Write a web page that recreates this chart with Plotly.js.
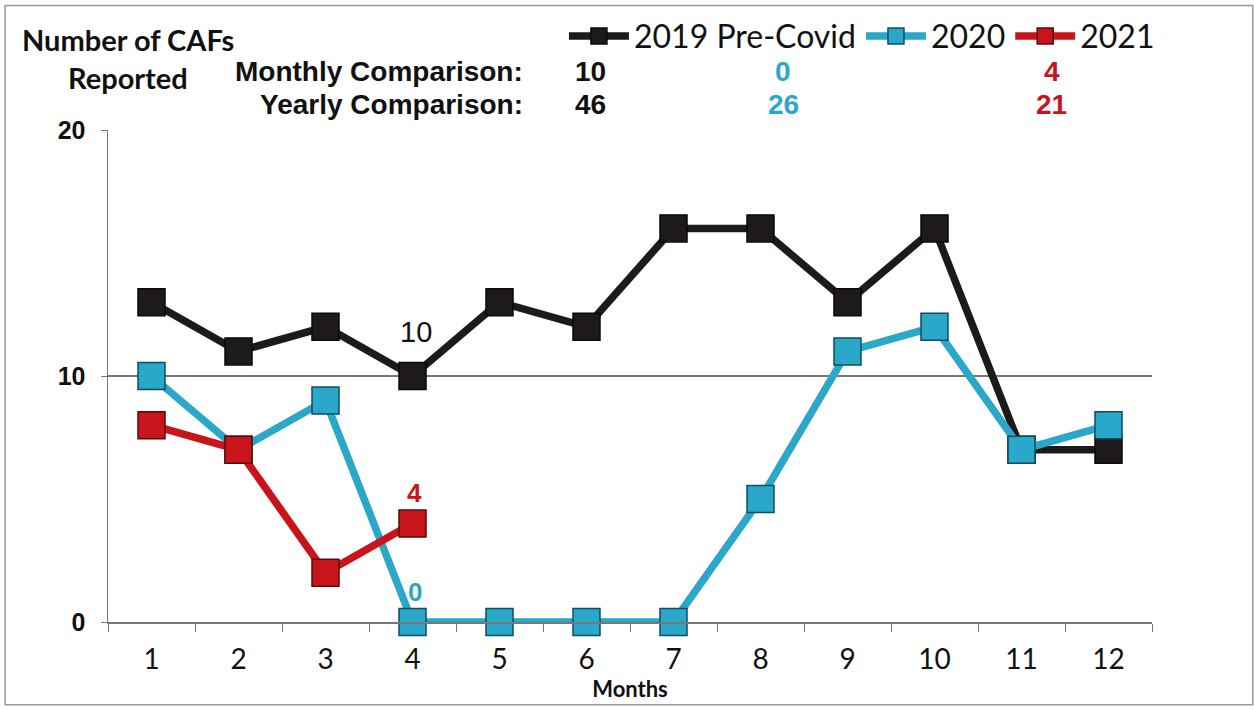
<!DOCTYPE html>
<html><head><meta charset="utf-8">
<script src="https://cdn.plot.ly/plotly-3.0.1.min.js"></script>
<style>html,body{margin:0;padding:0;background:#fff}#chart{width:1254px;height:709px}</style>
</head><body><div id="chart"></div>
<script>
const months = ['1','2','3','4','5','6','7','8','9','10','11','12'];
const names = ['2019 Pre-Covid','2020','2021'];
const v2019 = [13,11,12,10,13,12,16,16,13,16,7,7];
const v2020 = [10,7,9,0,0,0,0,5,11,12,7,8];
const v2021 = [8,7,2,4];
const colors = ['#1e1a1a','#2aa7c9','#c8141b'];
const edges = ['#0a0a0a','#0b4f63','#5a0a0a'];
const currentMonthIdx = 3;

const series = [v2019, v2020, v2021];
const traces = series.map((vals, k) => ({
  x: months.slice(0, vals.length), y: vals, name: names[k],
  type: 'scatter', mode: 'lines+markers',
  line: {color: colors[k], width: 7.5},
  marker: {symbol: 'square', size: 27, color: colors[k], line: {color: edges[k], width: 1.5}},
  cliponaxis: false, hoverinfo: 'skip'
}));

const monthly = series.map(v => v[currentMonthIdx]);
const yearly = series.map(v => v.slice(0, currentMonthIdx + 1).reduce((a, b) => a + b, 0));
const valX = [0.4617, 0.6466, 0.9042];
const valColors = ['#111', '#2aa7c9', '#c8141b'];

const hdr = {family: 'Liberation Sans, Arial', size: 28, color: '#111', weight: 'bold'};
const annotations = [
  {text: 'Number of CAFs', x: -0.084, y: 1.183, xanchor: 'left', yanchor: 'middle', font: {family: 'Lato', size: 29, color: '#111', weight: 'bold'}},
  {text: 'Reported', x: 0.019, y: 1.106, xanchor: 'center', yanchor: 'middle', font: {family: 'Lato', size: 29, color: '#111', weight: 'bold'}},
  {text: 'Monthly Comparison:', x: 0.3994, y: 1.118, xanchor: 'right', yanchor: 'middle', font: hdr},
  {text: 'Yearly Comparison:', x: 0.3994, y: 1.051, xanchor: 'right', yanchor: 'middle', font: hdr}
];
monthly.forEach((m, k) => annotations.push({text: String(m), x: valX[k], y: 1.118, xanchor: 'center', yanchor: 'middle', font: Object.assign({}, hdr, {color: valColors[k]})}));
yearly.forEach((m, k) => annotations.push({text: String(m), x: valX[k], y: 1.051, xanchor: 'center', yanchor: 'middle', font: Object.assign({}, hdr, {color: valColors[k]})}));
annotations.forEach(a => { a.xref = 'paper'; a.yref = 'paper'; a.showarrow = false; });

// point labels for the current month (category index on x)
const labelShift = [44, 30, 31];
series.forEach((vals, k) => annotations.push({
  x: currentMonthIdx, y: vals[currentMonthIdx], xref: 'x', yref: 'y',
  text: String(vals[currentMonthIdx]), showarrow: false, yshift: labelShift[k], xshift: k === 0 ? 3 : 2,
  font: {family: 'Liberation Sans, Arial', size: k === 0 ? 29 : 26, color: k === 0 ? '#111' : colors[k], weight: k === 0 ? 'normal' : 'bold'}
}));

const layout = {
  width: 1254, height: 709,
  margin: {l: 108, r: 102, t: 130, b: 87},
  paper_bgcolor: '#fff', plot_bgcolor: '#fff',
  showlegend: true,
  legend: {orientation: 'h', xref: 'container', yref: 'container', x: 0.925, xanchor: 'right', y: 0.949, yanchor: 'middle',
    font: {family: 'Lato', size: 32, color: '#111'}, itemwidth: 60, tracegroupgap: 0, bgcolor: 'rgba(0,0,0,0)'},
  xaxis: {type: 'category', categoryorder: 'array', categoryarray: months, range: [-0.5, 11.5],
    showgrid: false, showline: true, linecolor: '#777', linewidth: 1.5,
    ticks: 'outside', tickson: 'boundaries', ticklen: 8, tickcolor: '#777',
    ticklabelstandoff: 12, automargin: false,
    tickfont: {family: 'Lato', size: 28, color: '#111'},
    title: {text: 'Months', font: {family: 'Lato', size: 22, color: '#111', weight: 'bold'}, standoff: 0},
    zeroline: false, fixedrange: true},
  yaxis: {range: [0, 20], tickvals: [0, 10, 20], showgrid: true, gridcolor: '#777', gridwidth: 1.5,
    showline: true, linecolor: '#777', linewidth: 1.5, zeroline: false, automargin: false,
    ticks: 'outside', ticklen: 6, tickcolor: '#777', ticklabelstandoff: 10,
    tickfont: {family: 'Liberation Sans, Arial', size: 25, color: '#111', weight: 'bold'}, fixedrange: true},
  annotations: annotations,
  shapes: [{type: 'rect', xref: 'paper', yref: 'paper', x0: -0.0985, x1: 1.0965, y0: -0.168, y1: 1.253,
    line: {color: '#999', width: 1.5}}]
};
Plotly.newPlot('chart', traces, layout, {staticPlot: true, displayModeBar: false});
</script></body></html>
